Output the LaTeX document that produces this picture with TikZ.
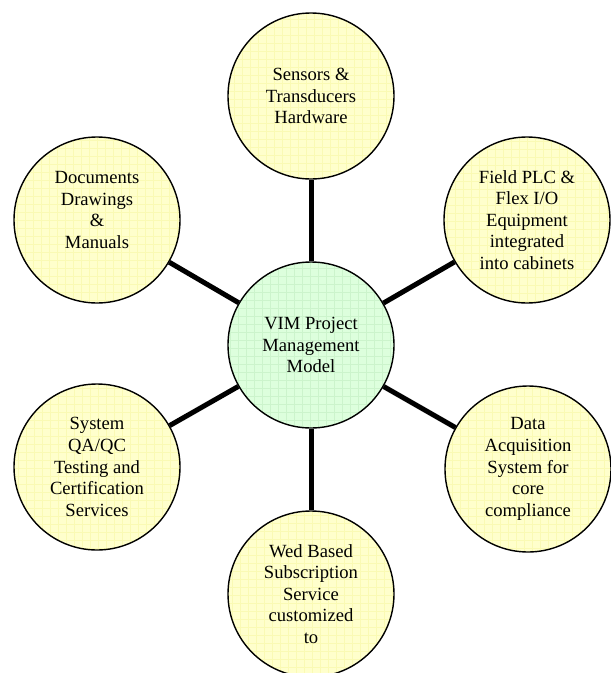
\documentclass[tikz,border=0pt]{standalone}
\usepackage{fontspec}
\setmainfont{Liberation Serif}
\definecolor{yfill}{HTML}{FFFFCC}
\definecolor{ygrid}{HTML}{FAFAB4}
\definecolor{gfill}{HTML}{DDFFDD}
\definecolor{ggrid}{HTML}{CCF4CC}
\tikzset{
  bubble/.style={circle, draw=black, line width=1.4pt, minimum size=166pt, inner sep=0pt,
    align=center, font=\fontsize{18.6}{21.6}\selectfont, text=black},
  ybubble/.style={bubble, fill=yfill,
    path picture={\draw[ygrid, line width=0.5pt, step=8pt] (path picture bounding box.south west) grid (path picture bounding box.north east);}},
  gbubble/.style={bubble, fill=gfill,
    path picture={\draw[ggrid, line width=0.5pt, step=8pt] (path picture bounding box.south west) grid (path picture bounding box.north east);}},
  spoke/.style={line width=5pt, black}
}
\begin{document}
\begin{tikzpicture}[x=1pt, y=-1pt]
\useasboundingbox (0,0) rectangle (611,673);
\node[gbubble] (c) at (311,345) {VIM Project\\Management\\Model};
\node[ybubble] (s) at (311,96) {Sensors \&\\Transducers\\Hardware};
\node[ybubble] (f) at (527,220) {Field PLC \&\\Flex I/O\\Equipment\\integrated\\into cabinets};
\node[ybubble] (d) at (528,469) {Data\\Acquisition\\System for\\core\\compliance};
\node[ybubble] (w) at (311,594) {Wed Based\\Subscription\\Service\\customized\\to};
\node[ybubble] (q) at (97,467) {System\\QA/QC\\Testing and\\Certification\\Services};
\node[ybubble, label={[name=dl, yshift=10pt, align=center, font=\fontsize{18.6}{21.6}\selectfont]center:{Documents\\Drawings\\\&\\Manuals}}] (m) at (97,220) {};
\draw[spoke] (c) -- (s);
\draw[spoke] (c) -- (f);
\draw[spoke] (c) -- (d);
\draw[spoke] (c) -- (w);
\draw[spoke] (c) -- (q);
\draw[spoke] (c) -- (m);
\end{tikzpicture}
\end{document}
